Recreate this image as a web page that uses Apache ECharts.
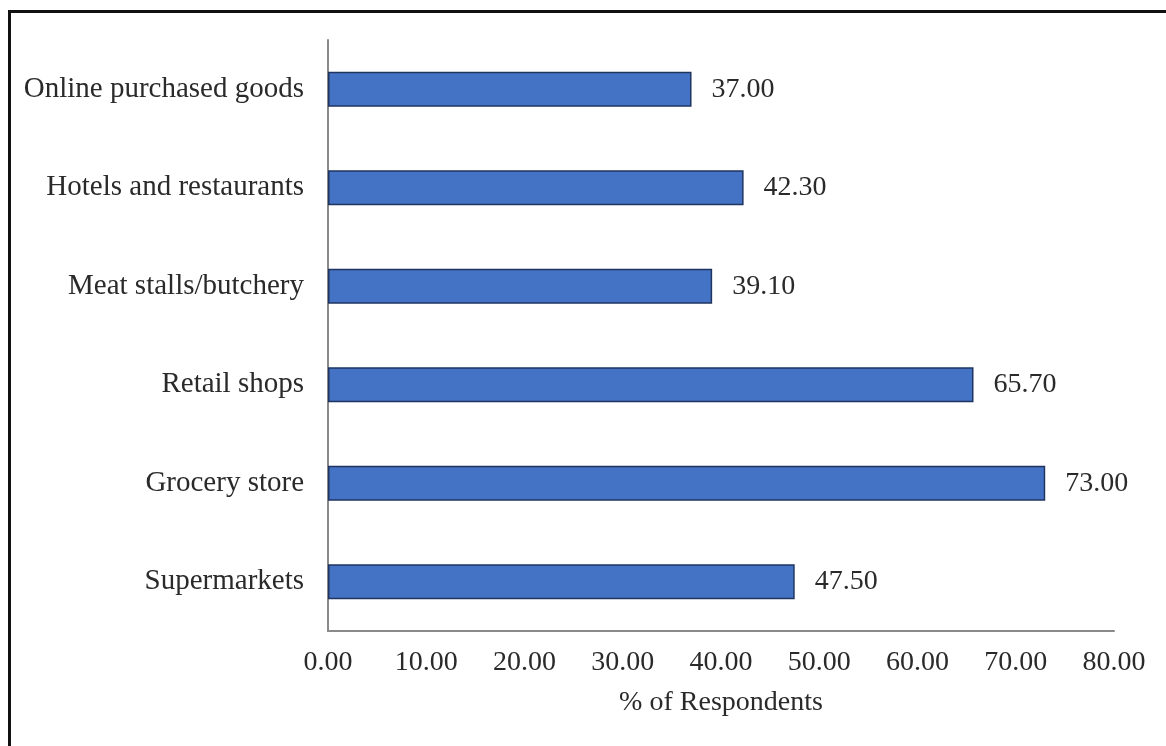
<!DOCTYPE html>
<html>
<head>
<meta charset="utf-8">
<script src="https://cdn.jsdelivr.net/npm/echarts@6/dist/echarts.min.js"></script>
<style>
  html, body { margin: 0; padding: 0; background: #fff; }
  #main { width: 1166px; height: 746px; }
</style>
</head>
<body>
<div id="main"></div>
<script>
const categories = ['Supermarkets', 'Grocery store', 'Retail shops', 'Meat stalls/butchery', 'Hotels and restaurants', 'Online purchased goods'];
const respondents = [47.5, 73.0, 65.7, 39.1, 42.3, 37.0];
const xTicks = [0, 10, 20, 30, 40, 50, 60, 70, 80];

const chart = echarts.init(document.getElementById('main'));
const serif = '"Liberation Serif", "DejaVu Serif", serif';

const option = {
    backgroundColor: '#fff',
    animation: false,
    graphic: [
        {
            type: 'rect',
            shape: { x: 9.5, y: 11.5, width: 1160, height: 780 },
            style: { fill: 'none', stroke: '#111', lineWidth: 3 }
        }
    ],
    grid: { left: 328, right: 52, top: 40, bottom: 115, containLabel: false },
    xAxis: {
        type: 'value',
        min: xTicks[0],
        max: xTicks[xTicks.length - 1],
        interval: 10,
        name: '% of Respondents',
        nameLocation: 'middle',
        nameGap: 58,
        nameTextStyle: { fontFamily: serif, fontSize: 28, color: '#2a2a2a' },
        axisLine: { show: true, lineStyle: { color: '#8a8a8a', width: 2 } },
        axisTick: { show: false },
        splitLine: { show: false },
        axisLabel: {
            margin: 18,
            fontFamily: serif, fontSize: 28, color: '#2a2a2a',
            formatter: v => v.toFixed(2)
        }
    },
    yAxis: {
        type: 'category',
        data: categories,
        axisLine: { show: true, lineStyle: { color: '#8a8a8a', width: 2 } },
        axisTick: { show: false },
        axisLabel: { margin: 24, fontFamily: serif, fontSize: 29, color: '#2a2a2a' }
    },
    series: [
        {
            type: 'bar',
            data: respondents,
            barWidth: 35,
            itemStyle: { color: '#4472C4', borderColor: '#1f3560', borderWidth: 1.5 },
            label: {
                show: true,
                position: 'right',
                distance: 20,
                fontFamily: serif, fontSize: 28, color: '#2a2a2a',
                formatter: p => p.value.toFixed(2)
            }
        }
    ]
};

chart.setOption(option);
</script>
</body>
</html>
